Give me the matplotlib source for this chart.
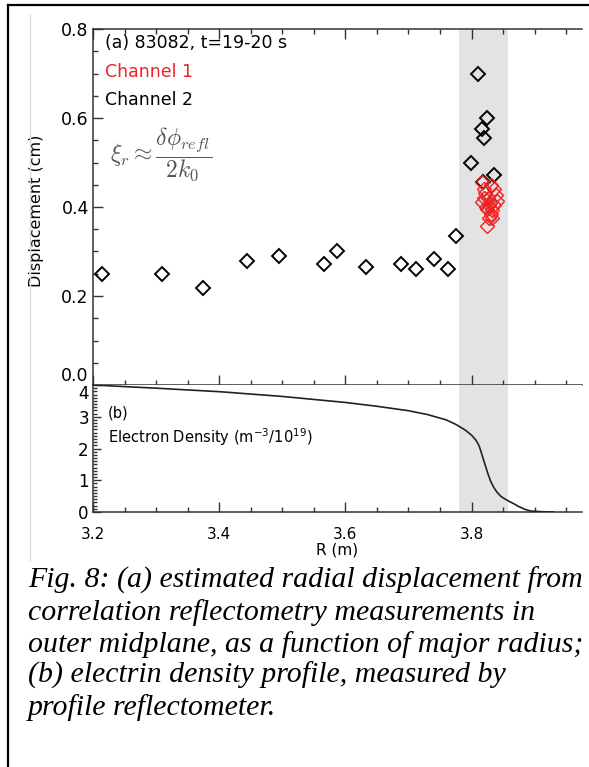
import matplotlib
matplotlib.use('Agg')
import matplotlib.pyplot as plt
from matplotlib.ticker import MultipleLocator
from matplotlib.lines import Line2D
import numpy as np

# channel 2 (black) displacement vs major radius
ch2_R = [3.215, 3.310, 3.374, 3.444, 3.494, 3.566, 3.587, 3.633, 3.688, 3.712, 3.741, 3.762,
         3.776, 3.799, 3.810, 3.825, 3.816, 3.819, 3.836, 3.818]
ch2_d = [0.250, 0.250, 0.219, 0.279, 0.290, 0.272, 0.301, 0.266, 0.273, 0.261, 0.283, 0.261,
         0.335, 0.499, 0.699, 0.601, 0.575, 0.556, 0.473, 0.457]

# channel 1 (red)
ch1_R = [3.817, 3.830, 3.835, 3.822, 3.838, 3.826, 3.840, 3.817, 3.828, 3.833,
         3.823, 3.831, 3.824, 3.819, 3.836, 3.827, 3.820, 3.833, 3.825, 3.829]
ch1_d = [0.457, 0.449, 0.440, 0.431, 0.428, 0.420, 0.414, 0.412, 0.405, 0.393,
         0.400, 0.385, 0.395, 0.420, 0.405, 0.375, 0.440, 0.375, 0.357, 0.410]

# electron density profile (10^19 m^-3)
ne_R = [3.20, 3.30, 3.40, 3.50, 3.60, 3.65, 3.70, 3.73, 3.76, 3.775, 3.790, 3.800, 3.807,
        3.812, 3.815, 3.818, 3.822, 3.826, 3.830, 3.835, 3.840, 3.846, 3.852, 3.860,
        3.867, 3.875, 3.885, 3.894, 3.91, 3.93]
ne = [4.00, 3.90, 3.79, 3.64, 3.45, 3.33, 3.19, 3.07, 2.90, 2.76, 2.58, 2.42, 2.26,
      2.08, 1.90, 1.70, 1.45, 1.20, 0.98, 0.78, 0.63, 0.50, 0.42, 0.33,
      0.26, 0.17, 0.08, 0.03, 0.01, 0.0]

shade = (3.78, 3.857)
xlim = (3.2, 3.975)

caption = ("Fig. 8: (a) estimated radial displacement from\n"
           "correlation reflectometry measurements in\n"
           "outer midplane, as a function of major radius;\n"
           "(b) electrin density profile, measured by\n"
           "profile reflectometer.")

W, H = 589, 767
fig = plt.figure(figsize=(W/100, H/100), dpi=100)

def fx(px): return px/W
def fy(py): return 1-py/H

ax1 = fig.add_axes([fx(93), fy(385), fx(582)-fx(93), fy(29)-fy(385)])
ax2 = fig.add_axes([fx(93), fy(512), fx(582)-fx(93), fy(385)-fy(512)], sharex=ax1)

for ax in (ax1, ax2):
    ax.axvspan(*shade, color='#e3e3e3', lw=0, zorder=0)
    ax.spines['right'].set_visible(False)
    for s in ax.spines.values(): s.set_linewidth(1.1); s.set_color('#333')
    ax.xaxis.set_major_locator(MultipleLocator(0.2))
    ax.xaxis.set_minor_locator(MultipleLocator(0.05))
    ax.tick_params(which='both', direction='in', color='#333', width=1.0)
    ax.tick_params(which='major', length=7)
    ax.tick_params(which='minor', length=3.5)

ax1.plot(ch2_R, ch2_d, ls='none', marker='D', ms=7, mfc='none', mec='black', mew=1.4, zorder=3)
ax1.plot(ch1_R, ch1_d, ls='none', marker='D', ms=7, mfc='none', mec='#ee2222', mew=1.0, zorder=4)
ax1.set_xlim(*xlim); ax1.set_ylim(0, 0.8)
ax1.yaxis.set_major_locator(MultipleLocator(0.2))
ax1.yaxis.set_minor_locator(MultipleLocator(0.05))
ax1.tick_params(axis='x', which='both', top=True, bottom=True, labelbottom=False)
ax1.tick_params(axis='y', labelsize=12.5, pad=3)
ax1.set_yticks([0.0, 0.2, 0.4, 0.6, 0.8], ['0.0', '0.2', '0.4', '0.6', '0.8'])
ax1.set_ylabel('Displacement (cm)', fontsize=11.5)
ax1.yaxis.set_label_coords(-0.1, 0.49)
ax1.text(0.025, 0.985, '(a) 83082, t=19-20 s', transform=ax1.transAxes, fontsize=12.5, va='top')
ax1.text(0.025, 0.905, 'Channel 1', transform=ax1.transAxes, fontsize=12.5, va='top', color='#ee2222')
ax1.text(0.025, 0.825, 'Channel 2', transform=ax1.transAxes, fontsize=12.5, va='top')
ax1.text(0.035, 0.645, r'$\xi_r \approx \dfrac{\delta\phi_{refl}}{2k_0}$', transform=ax1.transAxes,
         fontsize=17, va='center', color='#555555', math_fontfamily='cm')

ax2.plot(ne_R, ne, color='#222', lw=1.2, zorder=3)
ax2.set_ylim(0, 4)
ax2.spines['top'].set_visible(False)
ax2.yaxis.set_major_locator(MultipleLocator(1))
ax2.yaxis.set_minor_locator(MultipleLocator(0.1))
ax2.tick_params(axis='y', which='major', length=6, labelsize=12, pad=3)
ax2.tick_params(axis='y', which='minor', length=3)
ax2.tick_params(axis='x', which='both', top=False, labelsize=11, pad=11)
ax2.set_xticks([3.2, 3.4, 3.6, 3.8], ['3.2', '3.4', '3.6', '3.8'])
ax2.set_xlim(*xlim)
ax2.set_xlabel('R (m)', fontsize=11, labelpad=0)
ax2.text(0.03, 0.78, '(b)', transform=ax2.transAxes, fontsize=10.5, va='center')
ax2.text(0.03, 0.59, r'Electron Density (m$^{-3}$/10$^{19}$)', transform=ax2.transAxes,
         fontsize=10.5, va='center')

# the 0.0 and 4 labels sit on the shared boundary; keep them apart
ax1.get_yticklabels()[0].set_verticalalignment('bottom')
[t for t in ax2.get_yticklabels() if t.get_text() == '4'][0].set_verticalalignment('top')

fig.text(fx(28), fy(567), caption, fontsize=21.5, family='Liberation Serif', style='italic',
         va='top', ha='left', linespacing=1.22)

# page frame
fig.add_artist(Line2D([fx(8), fx(8)], [0, fy(5)], color='black', lw=1.6))
fig.add_artist(Line2D([fx(8), 1], [fy(5), fy(5)], color='black', lw=1.6))
fig.add_artist(Line2D([fx(30), fx(30)], [fy(560), fy(15)], color='#dddddd', lw=1.0))

fig.savefig('out.png', dpi=100)
